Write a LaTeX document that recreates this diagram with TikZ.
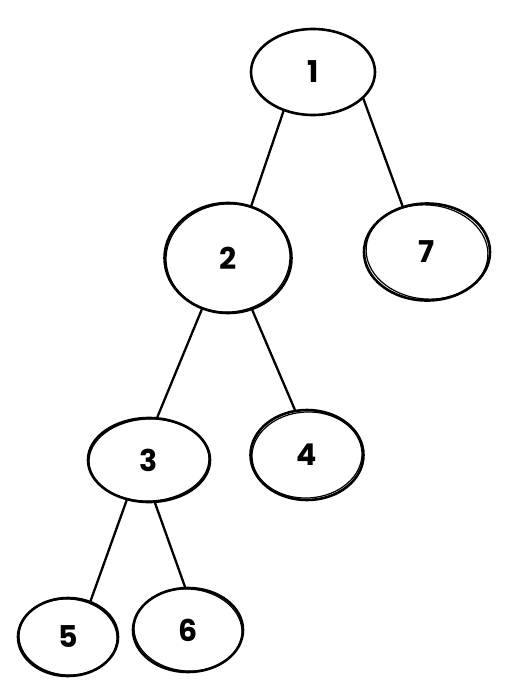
\documentclass[tikz,border=0pt]{standalone}
\usepackage{fontspec}
\setmainfont{Poppins}
\usetikzlibrary{shapes.geometric}
\begin{document}
\begin{tikzpicture}[x=1pt,y=-1pt,
  tnode/.style={ellipse,draw=black,line width=2.6pt,inner sep=0pt,font=\fontsize{30}{30}\selectfont\bfseries},
  sketch/.style={draw=black,line width=1.2pt},
  edge/.style={draw=black,line width=2.3pt,line cap=round}]
\useasboundingbox (0,0) rectangle (509,693);
\node[tnode,minimum width=124pt,minimum height=86pt] (n1) at (313,72) {1};
\node[tnode,minimum width=127pt,minimum height=110pt] (n2) at (228,258) {2};
\node[tnode,minimum width=126pt,minimum height=97pt] (n7) at (427,252) {7};
\node[tnode,minimum width=122pt,minimum height=84pt] (n3) at (149,460) {3};
\node[tnode,minimum width=113pt,minimum height=90pt] (n4) at (307,455) {4};
\node[tnode,minimum width=100pt,minimum height=78pt] (n5) at (68,637) {5};
\node[tnode,minimum width=110pt,minimum height=84pt] (n6) at (188,630) {6};
% sketchy second strokes
\draw[sketch] (n2.center) ellipse [x radius=62pt,y radius=54pt,rotate=4];
\draw[sketch] (n7.center) ellipse [x radius=61pt,y radius=47pt,rotate=-5];
\draw[sketch] (n4.center) ellipse [x radius=55pt,y radius=43pt,rotate=3];
\draw[sketch] (n6.center) ellipse [x radius=54pt,y radius=41pt,rotate=-4];
\draw[sketch] (n3.center) ellipse [x radius=60pt,y radius=41pt,rotate=2];
\draw[sketch] (n5.center) ellipse [x radius=49pt,y radius=38pt,rotate=-3];
% edges
\draw[edge] (n1.233) -- (n2.66);
\draw[edge] (n1.332) -- (n7.118);
\draw[edge] (n2.243) -- (n3.79);
\draw[edge] (n2.295) -- (n4.105);
\draw[edge] (n3.241) -- (n5.58);
\draw[edge] (n3.278) -- (n6.94);
\end{tikzpicture}
\end{document}
